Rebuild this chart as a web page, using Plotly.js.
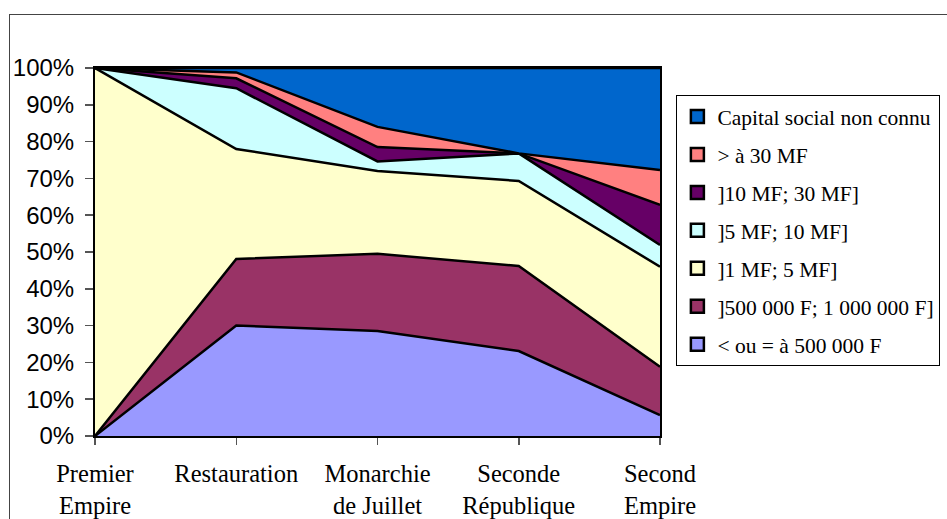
<!DOCTYPE html>
<html>
<head>
<meta charset="utf-8">
<script src="https://cdn.plot.ly/plotly-3.0.1.min.js"></script>
<style>
  html, body { margin: 0; padding: 0; background: #fff; }
  #wrap { position: relative; width: 947px; height: 519px; overflow: hidden; }
  #chart { position: absolute; left: 0; top: 0; width: 947px; height: 519px; }
  #frame { position: absolute; left: 9px; top: 14px; width: 1000px; height: 1000px;
           border-left: 1px solid #444; border-top: 1px solid #444; pointer-events: none; }
</style>
</head>
<body>
<div id="wrap"><div id="chart"></div><div id="frame"></div></div>
<script>
// Categories (periods)
const categories = ["Premier<br>Empire", "Restauration", "Monarchie<br>de Juillet", "Seconde<br>République", "Second<br>Empire"];

// Series names (bottom to top of stack)
const seriesNames = [
  "< ou = à 500 000 F",
  "]500 000 F; 1 000 000 F]",
  "]1 MF; 5 MF]",
  "]5 MF; 10 MF]",
  "]10 MF; 30 MF]",
  "> à 30 MF",
  "Capital social non connu"
];

// Series values (% of companies)
const lowCap      = [0,   30.0, 28.5, 23.1,  5.7];
const halfToOneMF = [0,   18.1, 21.0, 23.1, 13.1];
const oneToFiveMF = [100, 29.9, 22.5, 23.1, 27.2];
const fiveToTenMF = [0,   16.5,  2.6,  7.5,  5.9];
const tenToThirty = [0,    2.7,  3.9,  0.0, 10.9];
const overThirty  = [0,    1.6,  5.5,  0.0,  9.5];
const unknownCap  = [0,    1.2, 16.0, 23.2, 27.7];

const seriesValues = [lowCap, halfToOneMF, oneToFiveMF, fiveToTenMF, tenToThirty, overThirty, unknownCap];
const seriesColors = ["#9999FF", "#993366", "#FFFFCC", "#CCFFFF", "#660066", "#FF8080", "#0066CC"];

const traces = [];
seriesValues.forEach((vals, i) => {
  traces.push({
    type: "scatter", mode: "lines", x: categories, y: vals,
    stackgroup: "one", fillcolor: seriesColors[i],
    line: { color: "#000", width: 2.5 },
    showlegend: false, hoverinfo: "skip", name: seriesNames[i]
  });
});
// legend entries (square swatches), top of stack listed first
seriesValues.forEach((vals, i) => {
  traces.push({
    type: "scatter", mode: "markers", x: [null], y: [null],
    name: seriesNames[i], legendgroup: "g" + i, legendrank: 100 - i,
    marker: { symbol: "square", size: 13, color: seriesColors[i], line: { color: "#000", width: 2.5 } },
    hoverinfo: "skip"
  });
});

const layout = {
  width: 947, height: 519,
  margin: { l: 95, r: 287, t: 68, b: 83, autoexpand: false },
  paper_bgcolor: "rgba(0,0,0,0)", plot_bgcolor: "#fff",
  showlegend: true,
  legend: {
    x: 1.029, xanchor: "left", y: 0.9266, yanchor: "top",
    traceorder: "grouped", tracegroupgap: 7,
    bordercolor: "#000", borderwidth: 1, bgcolor: "#fff",
    font: { family: "Liberation Serif, Times New Roman, serif", size: 21.5, color: "#000" }
  },
  xaxis: {
    type: "category", range: [0, 4], showgrid: false, zeroline: false,
    showline: true, linecolor: "#000", linewidth: 2, mirror: true,
    ticks: "outside", ticklen: 7, tickcolor: "#555", tickwidth: 1.5,
    ticklabelstandoff: 8,
    tickfont: { family: "Liberation Serif, Times New Roman, serif", size: 24.5, color: "#000" },
    fixedrange: true
  },
  yaxis: {
    range: [0, 100], dtick: 10, ticksuffix: "%", showgrid: false, zeroline: false,
    showline: true, linecolor: "#000", linewidth: 2, mirror: true,
    ticks: "outside", ticklen: 8, tickcolor: "#555", tickwidth: 1.5,
    ticklabelstandoff: 6,
    tickfont: { family: "Liberation Sans, Arial, sans-serif", size: 24, color: "#000" },
    fixedrange: true
  }
};

Plotly.newPlot("chart", traces, layout, { staticPlot: true, displayModeBar: false });
</script>
</body>
</html>
